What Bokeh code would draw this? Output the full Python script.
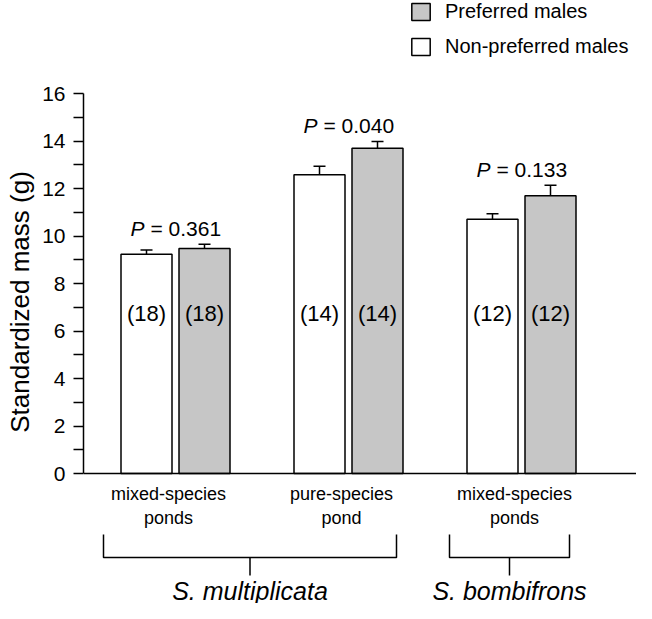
import numpy as np
from bokeh.plotting import figure
from bokeh.models import (ColumnDataSource, Range1d, FixedTicker, Whisker, TeeHead,
                          Span, Legend, LegendItem)
from bokeh.core.properties import value
from bokeh.embed import file_html
from bokeh.resources import INLINE

# ---------------- data ----------------
habitats = ["mixed-species\nponds", "pure-species\npond", "mixed-species\nponds"]
species = ["S. multiplicata", "S. bombifrons"]
species_members = [[0, 1], [2]]
nonpref_mean = [9.23, 12.58, 10.71]
nonpref_se = [0.18, 0.36, 0.23]
pref_mean = [9.47, 13.70, 11.69]
pref_se = [0.18, 0.28, 0.45]
n_males = [18, 14, 12]
p_values = ["0.361", "0.040", "0.133"]
y_major = [0, 2, 4, 6, 8, 10, 12, 14, 16]
y_minor = [1, 3, 5, 7, 9, 11, 13, 15]

# ---------------- layout helpers ----------------
PX_X = 173.0      # pixels per group step
PX_Y = 23.75      # pixels per gram
def dx(px):
    return px / PX_X
def dy(px):
    return px / PX_Y

FONT = value("Liberation Sans")
GREY = "#c6c6c6"

groups = np.arange(len(habitats), dtype=float)
off = dx(29)
bw = dx(51)

p = figure(width=636, height=603, output_backend="svg", toolbar_location=None,
           x_range=Range1d(dx(91 - 183), dx(644 - 183)),
           y_range=Range1d(-dy(611 - 481), dy(481 - 8)),
           x_axis_location=None, y_axis_location="left",
           min_border_left=83, min_border_right=0, min_border_top=0, min_border_bottom=0)
p.outline_line_color = None
p.grid.visible = False
p.background_fill_color = "white"

# bars
np_src = ColumnDataSource(dict(x=groups - off, top=nonpref_mean,
                               upper=np.array(nonpref_mean) + np.array(nonpref_se),
                               lower=np.array(nonpref_mean) - np.array(nonpref_se)))
pr_src = ColumnDataSource(dict(x=groups + off, top=pref_mean,
                               upper=np.array(pref_mean) + np.array(pref_se),
                               lower=np.array(pref_mean) - np.array(pref_se)))
r_np = p.vbar(x="x", top="top", bottom=0, width=bw, source=np_src,
              fill_color="white", line_color="black", line_width=1.5)
r_pr = p.vbar(x="x", top="top", bottom=0, width=bw, source=pr_src,
              fill_color=GREY, line_color="black", line_width=1.5)

for src in (np_src, pr_src):
    p.add_layout(Whisker(base="x", upper="upper", lower="lower", source=src,
                         line_color="black", line_width=1.5,
                         upper_head=TeeHead(size=12, line_width=1.5, line_color="black"),
                         lower_head=TeeHead(size=12, line_width=1.5, line_color="black")))

# baseline
p.add_layout(Span(location=0, dimension="width", line_color="black", line_width=1.5))

# sample sizes
cnt = ["(%d)" % n for n in n_males]
p.text(x=np.concatenate([groups - off, groups + off]), y=[6.74] * 6,
       text=cnt + cnt, text_font=FONT, text_font_size="22px",
       text_align="center", text_baseline="middle", text_color="black")

# P values
tops = np.maximum(np.array(pref_mean) + np.array(pref_se),
                  np.array(nonpref_mean) + np.array(nonpref_se)) + dy(16)
split = groups - dx(31)
p.text(x=split, y=tops, text=["P"] * 3, text_font=FONT, text_font_size="21px",
       text_font_style="italic", text_align="right", text_baseline="middle",
       text_color="black")
p.text(x=split + dx(6), y=tops, text=["= " + v for v in p_values], text_font=FONT,
       text_font_size="21px", text_align="left", text_baseline="middle",
       text_color="black")

# habitat labels
p.text(x=groups - dx(7), y=[-dy(491 - 481)] * 3, text=habitats, text_font=FONT,
       text_font_size="18px", text_align="center", text_baseline="top",
       text_line_height=1.2, text_color="black")

# species brackets
xs, ys, sx = [], [], []
y_top, y_h, y_bot = -dy(542 - 481), -dy(565 - 481), -dy(583 - 481)
for members in species_members:
    left = groups[members[0]] - dx(72)
    right = groups[members[-1]] + dx(48)
    mid = (left + right) / 2
    xs.append([left, left, right, right]); ys.append([y_top, y_h, y_h, y_top])
    xs.append([mid, mid]); ys.append([y_h, y_bot])
    sx.append(mid)
p.multi_line(xs=xs, ys=ys, line_color="black", line_width=1.5)
p.text(x=sx, y=[-dy(598 - 481)] * len(sx), text=species, text_font=FONT,
       text_font_size="25px", text_font_style="italic", text_align="center",
       text_baseline="middle", text_color="black")

# y axis
ax = p.yaxis[0]
ax.ticker = FixedTicker(ticks=y_major, minor_ticks=y_minor)
ax.bounds = (0, 16)
ax.axis_label = "Standardized mass (g)"
ax.axis_label_text_font = "Liberation Sans"
ax.axis_label_text_font_size = "26px"
ax.axis_label_text_font_style = "normal"
ax.axis_label_text_color = "black"
ax.axis_label_standoff = 4
ax.major_label_text_font = "Liberation Sans"
ax.major_label_text_font_size = "21px"
ax.major_label_text_color = "black"
ax.major_label_standoff = 8
ax.axis_line_width = 1.5
ax.axis_line_color = "black"
ax.major_tick_in = 0
ax.major_tick_out = 10
ax.minor_tick_in = 0
ax.minor_tick_out = 10
ax.major_tick_line_width = 1.5
ax.minor_tick_line_width = 1.5
ax.major_tick_line_color = "black"
ax.minor_tick_line_color = "black"

# legend
legend = Legend(items=[LegendItem(label="Preferred males", renderers=[r_pr]),
                       LegendItem(label="Non-preferred males", renderers=[r_np])],
                location=(326, 545), orientation="vertical",
                glyph_width=23, glyph_height=21, label_height=21, spacing=12,
                label_standoff=13, padding=0, margin=0,
                border_line_color=None, background_fill_alpha=0,
                label_text_font="Liberation Sans", label_text_font_size="20px",
                label_text_color="black")
p.add_layout(legend)

open("out.html", "w").write(file_html(p, INLINE))
